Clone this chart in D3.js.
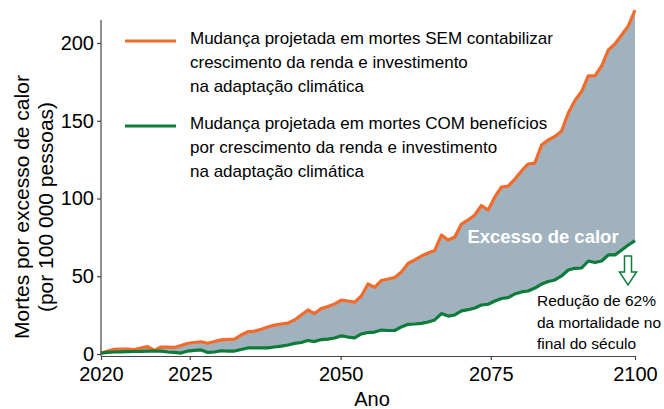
<!DOCTYPE html>
<html><head><meta charset="utf-8">
<script src="https://cdn.jsdelivr.net/npm/d3@7"></script>
<style>
html,body{margin:0;padding:0;background:#fff;}
svg{display:block;font-family:"Liberation Sans",Arial,sans-serif;}
</style></head>
<body>
<svg id="c" width="664" height="409"></svg>
<script>
const startYear = 2020;
const semAdaptacao = [0.5,1.9,3.0,3.2,3.2,2.9,3.9,4.7,2.3,4.5,4.4,4.2,5.5,6.9,7.4,7.9,6.9,8.0,9.1,9.4,
  9.6,12.2,14.3,14.7,15.9,17.4,18.6,19.3,19.9,21.9,25.1,28.3,26.0,29.3,30.5,32.2,34.7,34.1,33.4,37.3,
  45.0,42.8,47.3,48.2,49.2,52.7,58.2,60.5,63.0,65.0,66.6,76.5,73.3,75.2,83.6,86.2,89.4,95.5,92.6,101.0,
  107.4,108.0,112.5,117.7,122.2,122.8,134.4,137.6,139.9,143.4,155.0,163.0,168.8,178.8,178.8,185.2,195.5,199.4,205.1,211.0,221.2];
const comAdaptacao = [0.6,1.0,1.3,1.4,1.5,1.6,1.7,1.8,1.9,1.9,1.3,1.0,0.6,1.9,2.3,2.6,1.0,1.3,2.1,1.9,
  1.9,2.9,3.9,3.9,3.9,3.9,4.5,5.1,5.8,6.8,7.4,8.7,8.0,9.3,9.6,10.3,11.7,10.9,10.4,12.9,
  13.8,14.1,15.4,15.1,15.1,17.4,19.1,19.3,19.7,20.6,21.9,26.0,24.4,25.1,27.7,28.5,29.6,31.5,32.0,34.1,
  35.7,36.2,38.6,39.9,40.5,42.4,45.0,46.6,47.6,50.2,54.0,55.1,55.3,59.8,58.8,59.8,63.7,63.7,66.9,70.1,72.9];
const xTickPositions = [2020, 2033.3, 2055.9, 2078.4, 2100];
const xTickLabels = ["2020", "2025", "2050", "2075", "2100"];
const yTicks = [0, 50, 100, 150, 200];
const legendLabels = [
  ["Mudança projetada em mortes SEM contabilizar", "crescimento da renda e investimento", "na adaptação climática"],
  ["Mudança projetada em mortes COM benefícios", "por crescimento da renda e investimento", "na adaptação climática"]
];
const areaLabel = "Excesso de calor";
const noteLines = ["Redução de 62%", "da mortalidade no", "final do século"];

const ORANGE = "#f26b2a", GREEN = "#0e7b3b", FILL = "#a0b2bd";
const FONT = "Liberation Sans, Arial, sans-serif";
const data = semAdaptacao.map((v, i) => ({year: startYear + i, sem: v, com: comAdaptacao[i]}));

const svg = d3.select("#c");
const x = d3.scaleLinear().domain([2020, 2100]).range([101, 635]);
const y = d3.scaleLinear().domain([0, 200]).range([354, 43]);

// area
svg.append("path").datum(data)
  .attr("fill", FILL)
  .attr("d", d3.area().x(d => x(d.year)).y0(d => y(d.com)).y1(d => y(d.sem)));

const line = key => d3.line().x(d => x(d.year)).y(d => y(d[key]));
svg.append("path").datum(data).attr("fill","none").attr("stroke",ORANGE).attr("stroke-width",3.2)
  .attr("stroke-linejoin","round").attr("d", line("sem"));
svg.append("path").datum(data).attr("fill","none").attr("stroke",GREEN).attr("stroke-width",3.2)
  .attr("stroke-linejoin","round").attr("d", line("com"));

// axes
const yAxis = svg.append("g").attr("transform","translate(101,0)")
  .call(d3.axisLeft(y).tickValues(yTicks).tickSize(4).tickPadding(3));
yAxis.select(".domain").attr("d", `M0,${20}V${356}`);
yAxis.selectAll("line,path").attr("stroke","#444").attr("stroke-width",1.2);
yAxis.selectAll("text").attr("font-size",20).attr("fill","#000").attr("font-family",FONT);

const xAxis = svg.append("g").attr("transform","translate(0,356)")
  .call(d3.axisBottom(x).tickValues(xTickPositions).tickFormat((d,i) => xTickLabels[i]).tickSize(4).tickSizeOuter(0).tickPadding(7));
xAxis.selectAll("line,path").attr("stroke","#444").attr("stroke-width",1.2);
xAxis.selectAll("text").attr("font-size",20).attr("fill","#000").attr("font-family",FONT);

// titles
svg.append("text").attr("x",372).attr("y",406).attr("text-anchor","middle")
  .attr("font-size",20).text("Ano");
const yt = svg.append("text").attr("transform","translate(29,207) rotate(-90)")
  .attr("text-anchor","middle").attr("font-size",21);
yt.append("tspan").attr("x",0).attr("dy",0).text("Mortes por excesso de calor");
yt.append("tspan").attr("x",0).attr("dy",24).text("(por 100 000 pessoas)");

// legend
const legColors = [ORANGE, GREEN];
const legY = [41, 126];
legendLabels.forEach((lines, k) => {
  svg.append("line").attr("x1",125).attr("x2",176).attr("y1",legY[k]).attr("y2",legY[k])
    .attr("stroke",legColors[k]).attr("stroke-width",3.2);
  const t = svg.append("text").attr("x",190).attr("y",legY[k]+3).attr("font-size",17).attr("fill","#000");
  lines.forEach((s, j) => t.append("tspan").attr("x",190).attr("dy", j === 0 ? 0 : 24).text(s));
});

// area label
svg.append("text").attr("x",543).attr("y",243).attr("text-anchor","middle")
  .attr("font-size",18.5).attr("font-weight","bold").attr("fill","#fff").text(areaLabel);

// arrow
const ax = 628, at = 256;
svg.append("path")
  .attr("d", `M${ax-3.5},${at} H${ax+3.5} V${at+16} H${ax+8.5} L${ax},${at+29} L${ax-8.5},${at+16} H${ax-3.5} Z`)
  .attr("fill","#fff").attr("stroke",GREEN).attr("stroke-width",1.5).attr("stroke-linejoin","miter");

const nt = svg.append("text").attr("x",537).attr("y",306).attr("font-size",15.5).attr("fill","#000");
noteLines.forEach((s, j) => nt.append("tspan").attr("x",537).attr("dy", j === 0 ? 0 : 21.5).text(s));
</script>
</body></html>
